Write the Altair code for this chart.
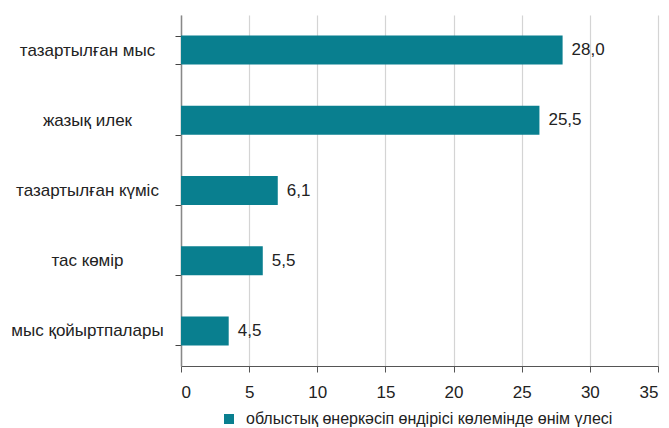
import altair as alt
import pandas as pd

categories = ["тазартылған мыс", "жазық илек", "тазартылған күміс", "тас көмір", "мыс қойыртпалары"]
bar_values = [28.0, 26.3, 7.1, 6.0, 3.5]
label_texts = ["28,0", "25,5", "6,1", "5,5", "4,5"]
series_name = "облыстық өнеркәсіп өндірісі көлемінде өнім үлесі"
x_ticks = [0, 5, 10, 15, 20, 25, 30, 35]

df = pd.DataFrame({
    "category": categories,
    "value": bar_values,
    "label": label_texts,
    "series": [series_name] * len(categories),
})

FONT = "Liberation Sans"
TEAL = "#097f8f"

y_enc = alt.Y(
    "category:N",
    sort=categories,
    title=None,
    scale=alt.Scale(paddingInner=0.59, paddingOuter=0.295),
    axis=alt.Axis(
        labelAlign="center",
        labelPadding=88,
        labelFontSize=17,
        labelFont=FONT,
        labelColor="#222222",
        labelLimit=0,
        tickBand="extent",
        tickSize=6,
        tickColor="#444444",
        domainColor="#888888",
        domainWidth=1.5,
        grid=False,
    ),
)

x_enc = alt.X(
    "value:Q",
    title=None,
    scale=alt.Scale(domain=[0, 35], nice=False),
    axis=alt.Axis(
        values=x_ticks,
        labelFontSize=17,
        labelFont=FONT,
        labelColor="#222222",
        labelPadding=12,
        tickSize=6,
        tickColor="#555555",
        domainColor="#555555",
        gridColor="#d4d4d4",
        gridWidth=1.2,
    ),
)

bars = alt.Chart(df).mark_bar(size=29).encode(
    x=x_enc,
    y=y_enc,
    color=alt.Color(
        "series:N",
        scale=alt.Scale(range=[TEAL]),
        legend=alt.Legend(
            title=None,
            orient="none",
            legendX=40,
            legendY=396,
            symbolType="square",
            symbolSize=100,
            symbolStrokeWidth=0,
            labelFontSize=16,
            labelFont=FONT,
            labelColor="#222222",
            labelOffset=9,
            labelLimit=0,
            padding=0,
        ),
    ),
)

labels = alt.Chart(df).mark_text(
    align="left", baseline="middle", dx=9, fontSize=17, font=FONT, color="#222222"
).encode(
    x="value:Q",
    y=alt.Y("category:N", sort=categories),
    text="label:N",
)

chart = alt.layer(bars, labels).properties(
    width=477,
    height=351,
    autosize=alt.AutoSizeParams(type="none"),
    padding={"left": 173, "top": 7, "right": 3, "bottom": 62},
).configure_view(stroke=None)

chart.save("out.html", embed_options={"renderer": "svg", "actions": False})
